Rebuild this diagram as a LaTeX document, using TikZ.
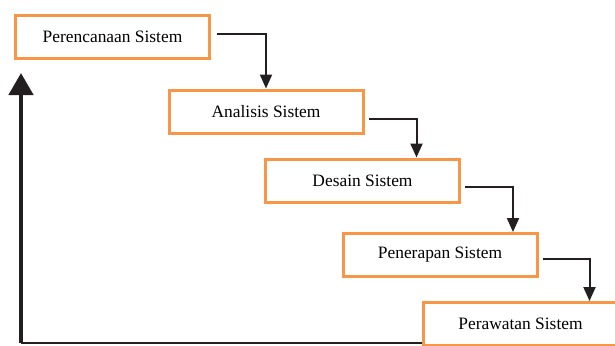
\documentclass[tikz,border=0pt]{standalone}
\usepackage{fontspec}
\setmainfont{Liberation Serif}
\usepackage{tikz}
\usetikzlibrary{arrows.meta}
\definecolor{boxorange}{RGB}{247,150,70}
\definecolor{inkdark}{RGB}{35,31,32}

\begin{document}
\begin{tikzpicture}[x=1pt,y=-1pt,
  stage/.style={draw=boxorange,line width=3pt,fill=white,minimum width=194pt,minimum height=43pt,inner sep=0pt,font=\fontsize{17.4}{20}\selectfont},
  flow/.style={draw=inkdark,line width=2pt,-{Triangle[width=12pt,length=14pt]}},
  axis/.style={draw=inkdark,line width=4.5pt,-{Triangle[width=24pt,length=22pt]}}]
\clip (0,0) rectangle (615,345);
\node[stage] (plan) at (112.5,37) {Perencanaan Sistem};
\node[stage] (anal) at (266,111.5) {Analisis Sistem};
\node[stage] (desn) at (362.5,180.5) {Desain Sistem};
\node[stage] (impl) at (440,255) {Penerapan Sistem};
\node[stage] (care) at (520.5,324) {Perawatan Sistem};
% step arrows
\draw[flow] ([xshift=6pt,yshift=3pt]plan.east) -- ++(49,0) coordinate (t1) -- (t1 |- anal.north);
\draw[flow] ([xshift=4pt,yshift=-7.5pt]anal.east) -- ++(48,0) coordinate (t2) -- (t2 |- desn.north);
\draw[flow] ([xshift=4pt,yshift=-6.5pt]desn.east) -- ++(48,0) coordinate (t3) -- (t3 |- impl.north);
\draw[flow] ([xshift=4pt,yshift=-4pt]impl.east) -- ++(47,0) coordinate (t4) -- (t4 |- care.north);
% axes
\coordinate (origin) at (21,343);
\coordinate (top) at (21,73);
\draw[axis] (origin) -- (top);
\draw[inkdark,line width=1.5pt] (origin) -- (origin -| care.west);
\end{tikzpicture}
\end{document}
